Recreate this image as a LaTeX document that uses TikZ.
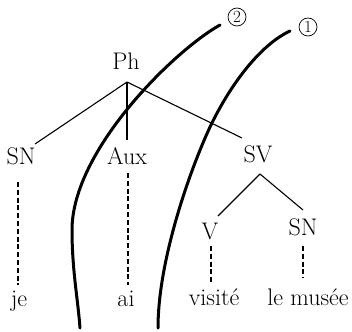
\documentclass[tikz,border=0pt]{standalone}
\usepackage{fontspec}
\begin{document}
\begin{tikzpicture}[x=1pt,y=-1pt,
  lab/.style={anchor=base,inner sep=0pt,font=\fontsize{24}{28}\selectfont},
  num/.style={circle,draw,line width=0.7pt,inner sep=0pt,minimum size=18pt,font=\fontsize{17}{20}\selectfont},
  branch/.style={line width=1.1pt},
  dep/.style={line width=1.1pt,dash pattern=on 5pt off 2.8pt},
  cut/.style={line width=3pt,line cap=round}]
\useasboundingbox (0,0) rectangle (352,331);
% labels
\node[lab] (ph) at (126,70) {Ph};
\node[lab] (sn1) at (21,164) {SN};
\node[lab] (aux) at (127,164) {Aux};
\node[lab] (sv) at (258,162) {SV};
\node[lab] (v) at (210,239) {V};
\node[lab] (sn2) at (303,235) {SN};
\node[lab] (je) at (19,306) {je};
\node[lab] (ai) at (126,306) {ai};
\node[lab] (visite) at (214,305) {visité};
\node[lab] (musee) at (308,305) {le musée};
% branch points
\coordinate (phj) at (127,82);
\coordinate (sn1t) at (35,144);
\coordinate (auxt) at (127,140);
\coordinate (svt) at (242,138);
\coordinate (svj) at (260,174);
\coordinate (vt) at (218,216);
\coordinate (sn2t) at (303,210);
\draw[branch] (phj) -- (sn1t);
\draw[branch] (phj) -- (auxt);
\draw[branch] (phj) -- (svt);
\draw[branch] (svj) -- (vt);
\draw[branch] (svj) -- (sn2t);
% dashed dependencies
\coordinate (sn1b) at (18,182); \coordinate (jet) at (18,285);
\coordinate (auxb) at (128,173); \coordinate (ait) at (128,285);
\coordinate (vb) at (211,246); \coordinate (visitet) at (211,282);
\coordinate (sn2b) at (303,246); \coordinate (museet) at (303,278);
\draw[dep] (sn1b) -- (jet);
\draw[dep] (auxb) -- (ait);
\draw[dep] (vb) -- (visitet);
\draw[dep] (sn2b) -- (museet);
% cut lines
\coordinate (c2a) at (220,25); \coordinate (c2b) at (72,230); \coordinate (c2c) at (80,328);
\coordinate (c1a) at (290,31); \coordinate (c1b) at (210,127); \coordinate (c1c) at (158,328);
\draw[cut] (c2a) .. controls (175,50) and (72,150) .. (c2b) .. controls (72,270) and (78,300) .. (c2c);
\draw[cut] (c1a) .. controls (260,45) and (230,85) .. (c1b) .. controls (190,170) and (158,260) .. (c1c);
\node[num] (n2) at (237,17) {2};
\node[num] (n1) at (308,27) {1};
\end{tikzpicture}
\end{document}
